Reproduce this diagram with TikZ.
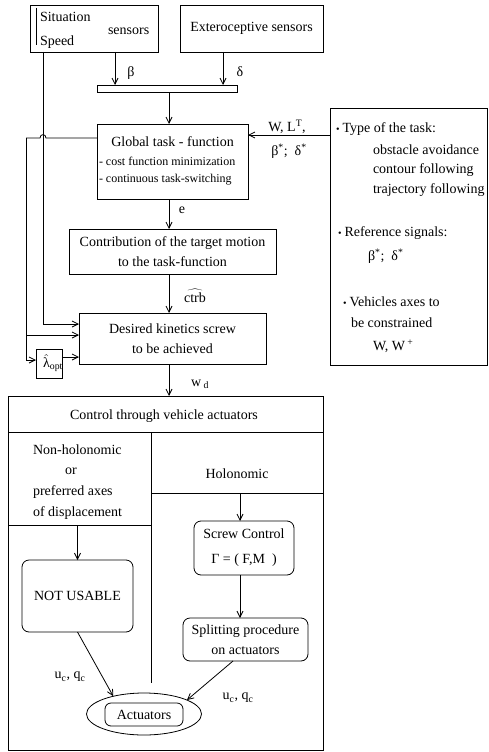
\documentclass[tikz,border=0pt]{standalone}
\usepackage{fontspec}
\setmainfont{Liberation Serif}
\usetikzlibrary{arrows.meta,shapes.geometric}
\begin{document}
\begin{tikzpicture}[x=1pt,y=-1pt,
  every node/.style={font=\fontsize{14}{20}\selectfont, inner sep=0pt, outer sep=0pt},
  box/.style={draw, line width=0.8pt, align=center},
  rbox/.style={box, rounded corners=7pt},
  small/.style={font=\fontsize{12}{19}\selectfont},
  conn/.style={line width=0.8pt, -{Straight Barb[length=6pt,width=6pt]}},
  plain/.style={line width=0.8pt}]
\fill[white] (0,0) rectangle (489,752);
\useasboundingbox (0,0) rectangle (489,752);

% ---------- top sensors ----------
\node[box, minimum width=128, minimum height=47] (sit) at (94,28.5) {};
\draw[plain] ([xshift=6,yshift=-3]sit.north west) -- ([xshift=6,yshift=7]sit.south west);
\node[anchor=west] (situ) at (40,17) {Situation};
\node[anchor=west] (speed) at (40,42) {Speed};
\node[anchor=west] (sens) at (108,31) {sensors};
\node[box, minimum width=143, minimum height=47] (ext) at (251.5,28.5) {Exteroceptive sensors};
\node[box, minimum width=140, minimum height=7] (bar) at (167,88.5) {};

\draw[conn] ([xshift=21]sit.south) -- ([xshift=21]sit.south |- bar.north);
\draw[conn] ([xshift=-28.5]ext.south) -- ([xshift=-28.5]ext.south |- bar.north);
\node (beta) at (131,73) {β};
\node (delta) at (240,72) {δ};

% ---------- main column ----------
\coordinate (spine) at (169,0);
\node[box, minimum width=151, minimum height=75] (glob) at (172.5,161.5) {};
\node (globt) at (172.5,142) {Global task - function};
\node[small, anchor=west] (g1) at (99,161) {- cost function minimization};
\node[small, anchor=west] (g2) at (99,180) {- continuous task-switching};
\draw[conn] (bar.south -| spine) -- (glob.north -| spine);

\node[box, minimum width=207, minimum height=45] (contr) at (172.5,251.5)
  {Contribution of the target motion\\to the task-function};
\draw[conn] (glob.south -| spine) -- (contr.north -| spine);
\node (e) at (182,210) {e};

\node[box, minimum width=187, minimum height=51] (des) at (172.5,338.5)
  {Desired kinetics screw\\to be achieved};
\draw[conn] (contr.south -| spine) -- (des.north -| spine);
\node (ctrb) at (195,296) {$\widehat{\mbox{ctrb}}$};

% ---------- right info box ----------
\node[box, minimum width=157, minimum height=257] (info) at (408.5,236.5) {};
\node[anchor=west] (i1) at (336,129) {\fontsize{10}{10}\selectfont•\hspace{3pt}\fontsize{14}{20}\selectfont Type of the task:};
\node[anchor=west] (i2) at (373,150) {obstacle avoidance};
\node[anchor=west] (i3) at (373,170) {contour following};
\node[anchor=west] (i4) at (373,190) {trajectory following};
\node[anchor=west] (i5) at (338,233) {\fontsize{10}{10}\selectfont•\hspace{3pt}\fontsize{14}{20}\selectfont Reference signals:};
\node[anchor=west] (i6) at (368,256) {β\textsuperscript{*};\ \ δ\textsuperscript{*}};
\node[anchor=west] (i7) at (343,302) {\fontsize{10}{10}\selectfont•\hspace{3pt}\fontsize{14}{20}\selectfont Vehicles axes to};
\node[anchor=west] (i8) at (351,323) {be constrained};
\node[anchor=west] (i9) at (373,346) {W, W\,\textsuperscript{+}};

\coordinate (wl) at (0,135);
\draw[conn] (info.west |- wl) -- (glob.east |- wl);
\node (wlt) at (287,127) {W, L\textsuperscript{T},};
\node (bdl) at (289,151) {β\textsuperscript{*};\ \ δ\textsuperscript{*}};

% ---------- left feedback lines ----------
\node[box, minimum width=26, minimum height=29] (lam) at (49,363.5) {};
\node (lamt) at (53,363) {$\hat{\mbox{λ}}$\textsubscript{opt}};

\coordinate (xa) at (43,0);
\draw[conn] (sit.south -| xa) |- ([yshift=14.5]des.west);

\coordinate (hopR) at (46,138);
\coordinate (hopL) at (40,138);
\coordinate (c1) at (26,138);
\coordinate (cB) at (0,335);
\draw[plain] ([yshift=23.5]glob.west) -- (hopR) .. controls (46,133.5) and (40,133.5) .. (hopL) -- (c1);
\draw[conn] (c1) |- ([yshift=3.5]lam.west);
\draw[conn] (c1 |- cB) -- (des.west |- cB);
\draw[conn] ([yshift=6.5]lam.east) -- ([yshift=-18.5]des.west);

% ---------- control block ----------
\node[box, minimum width=315, minimum height=354] (ctrl) at (165.5,573) {};
\draw[conn] (des.south -| spine) -- (ctrl.north -| spine);
\node (wd) at (200,384) {w\,\textsubscript{d}};
\node (ctrlt) at (164,416) {Control through vehicle actuators};

\coordinate (h1) at (0,432);
\coordinate (dvt) at (151,432);
\coordinate (dvb) at (151,683);
\coordinate (h2) at (0,525);
\coordinate (h3) at (0,493);
\draw[plain] (ctrl.west |- h1) -- (ctrl.east |- h1);
\draw[plain] (dvt) -- (dvb);
\draw[plain] (ctrl.west |- h2) -- (dvt |- h2);
\draw[plain] (dvt |- h3) -- (ctrl.east |- h3);

\node[anchor=west] (nh1) at (33,450) {Non-holonomic};
\node[anchor=west] (nh2) at (65,471) {or};
\node[anchor=west] (nh3) at (33,492) {preferred axes};
\node[anchor=west] (nh4) at (33,513) {of displacement};
\node (hol) at (237,474) {Holonomic};

\node[rbox, minimum width=111, minimum height=72] (notus) at (77.5,596) {NOT USABLE};
\draw[conn] (notus.north |- h2) -- (notus.north);

\node[rbox, minimum width=100, minimum height=54] (screw) at (244,548)
  {Screw Control\\[5pt]Γ = ( F,M\ \ )};
\coordinate (xs) at (240,0);
\draw[conn] (xs |- h3) -- (screw.north -| xs);

\node[rbox, minimum width=125, minimum height=43] (split) at (245.5,639.5)
  {Splitting procedure\\on actuators};
\draw[conn] (screw.south -| xs) -- (split.north -| xs);

\node[draw, line width=0.8pt, ellipse, minimum width=115, minimum height=42] (act) at (144,714) {};
\node[rbox, rounded corners=6pt, minimum width=78, minimum height=23] (actin) at (144,714.5) {Actuators};

\draw[conn] (notus.south) -- (act.150);
\draw[conn] ([xshift=-12.5]split.south) -- (act.18);
\node (uq1) at (70,677) {u\textsubscript{c}, q\textsubscript{c}};
\node (uq2) at (238,698) {u\textsubscript{c}, q\textsubscript{c}};
\end{tikzpicture}
\end{document}
